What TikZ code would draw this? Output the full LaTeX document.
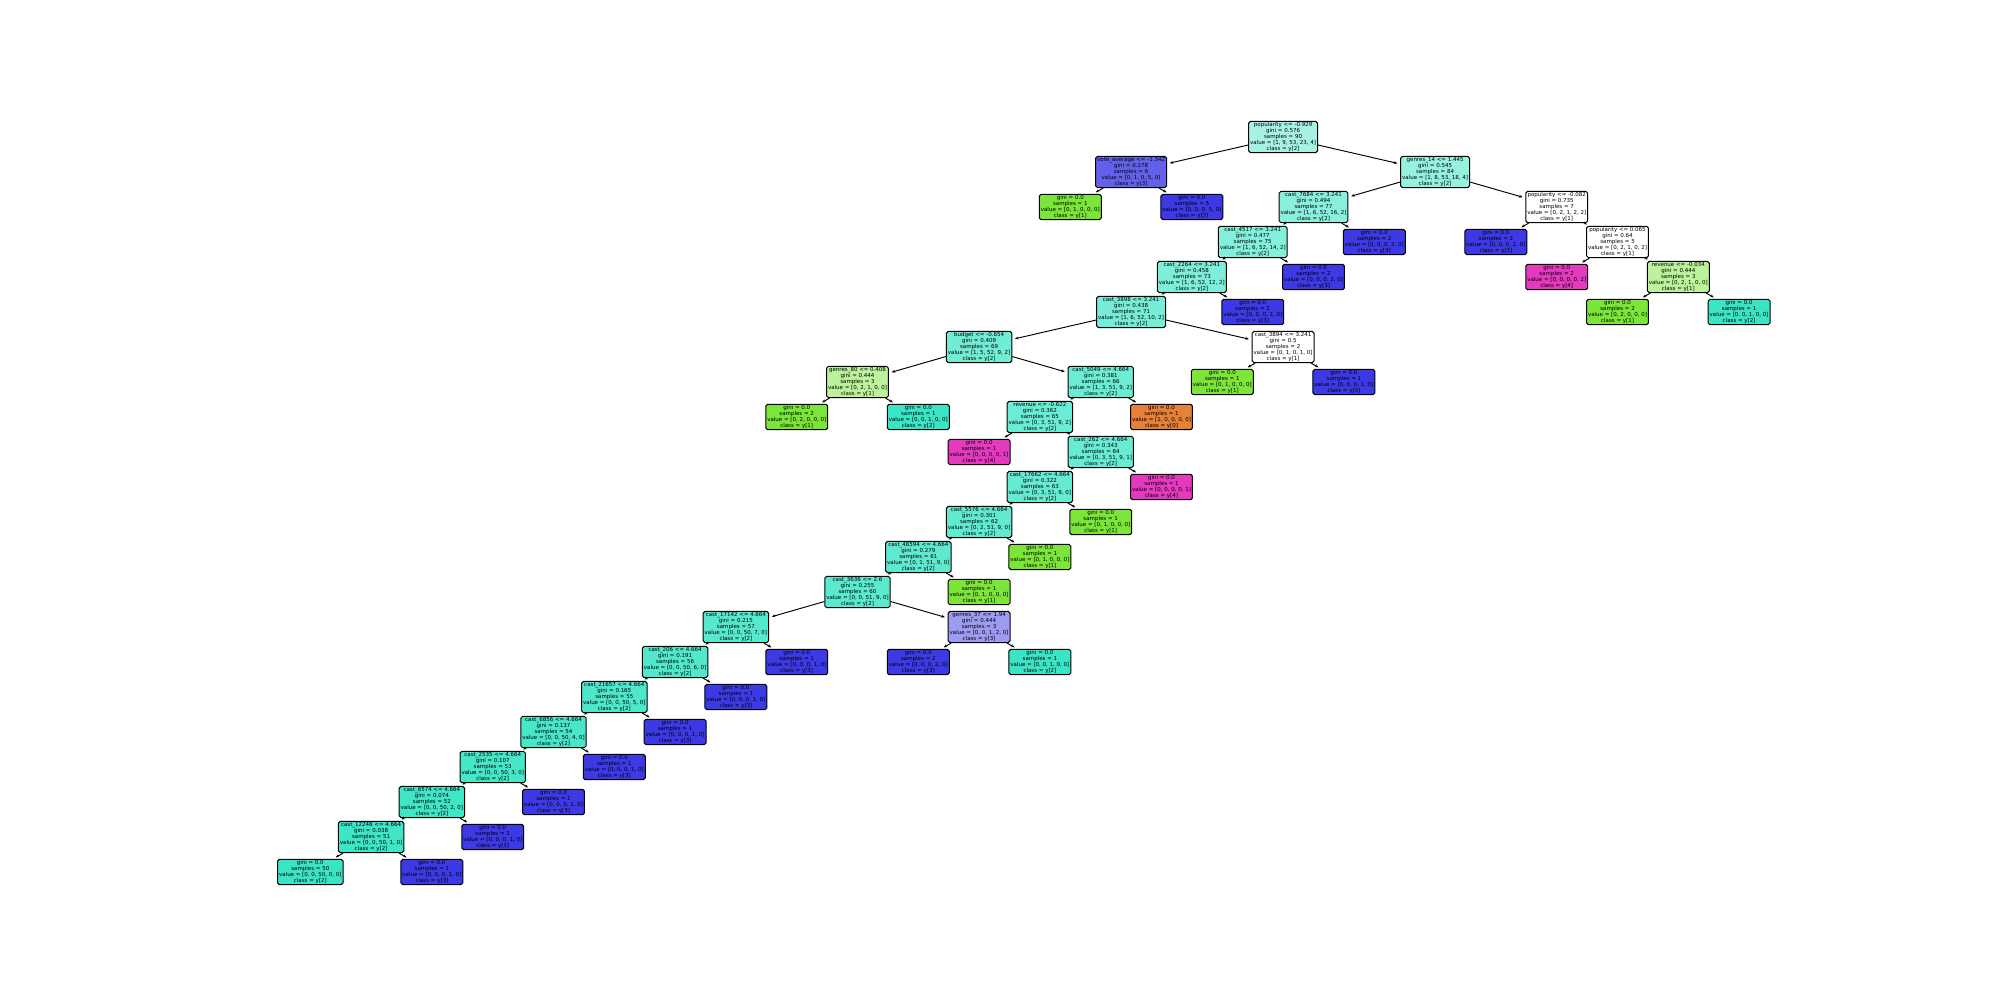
\documentclass[tikz,border=0pt]{standalone}
\usepackage{fontspec}
\setmainfont{DejaVu Sans}
\usetikzlibrary{arrows.meta}
\definecolor{cO}{RGB}{229,129,57}
\definecolor{cG}{RGB}{123,229,57}
\definecolor{cT}{RGB}{57,229,197}
\definecolor{cB}{RGB}{60,57,229}
\definecolor{cP}{RGB}{229,57,192}
\definecolor{iRoot}{RGB}{166,243,229}
\definecolor{iVA}{RGB}{99,97,234}
\definecolor{iGa}{RGB}{150,241,224}
\definecolor{iC7684}{RGB}{138,240,221}
\definecolor{iC4517}{RGB}{132,239,219}
\definecolor{iC2264}{RGB}{125,238,217}
\definecolor{iC3898}{RGB}{119,237,215}
\definecolor{iBud}{RGB}{113,236,213}
\definecolor{iC5049}{RGB}{109,236,212}
\definecolor{iR622}{RGB}{107,236,212}
\definecolor{iC262}{RGB}{104,235,211}
\definecolor{iC17662}{RGB}{101,235,210}
\definecolor{iC5576}{RGB}{98,234,209}
\definecolor{iC46594}{RGB}{95,234,208}
\definecolor{iC3636}{RGB}{92,234,207}
\definecolor{iC17142}{RGB}{85,233,205}
\definecolor{iC206}{RGB}{81,232,204}
\definecolor{iC21657}{RGB}{77,232,203}
\definecolor{iC6856}{RGB}{73,231,202}
\definecolor{iC2535}{RGB}{69,231,200}
\definecolor{iC6574}{RGB}{65,230,199}
\definecolor{iC12248}{RGB}{61,230,198}
\definecolor{iLG}{RGB}{189,242,156}
\definecolor{iLB}{RGB}{158,156,242}
\newcommand\tfs{\fontsize{5.5}{5.9}\selectfont}
\newcommand\lf[3]{gini = 0.0\\samples = #1\\value = [#2]\\class = y[#3]}
\newcommand\N[5]{\node[tn, fill=#4] (#1) at ({310.3+60.8*#2},{137+35*#3}) {#5};}
\tikzset{
  tn/.style={draw=black, line width=1pt, rounded corners=1.8pt, align=center,
    inner xsep=1.5pt, inner ysep=1.2pt, font=\tfs, text=black},
  ar/.style={-{Stealth[length=3.5pt,width=2.8pt]}, line width=0.95pt, shorten >=2.8pt}
}
\begin{document}
\begin{tikzpicture}[x=1pt,y=-1pt]
\useasboundingbox (0,0) rectangle (2000,1000);
% depth 0
\N{n0}{16}{0}{iRoot}{popularity <= -0.929\\gini = 0.576\\samples = 90\\value = [1, 9, 53, 23, 4]\\class = y[2]}
% depth 1
\N{va}{13.5}{1}{iVA}{vote\_average <= -1.342\\gini = 0.278\\samples = 6\\value = [0, 1, 0, 5, 0]\\class = y[3]}
\N{g14}{18.5}{1}{iGa}{genres\_14 <= 1.445\\gini = 0.545\\samples = 84\\value = [1, 8, 53, 18, 4]\\class = y[2]}
% depth 2
\N{l1}{12.5}{2}{cG}{\lf{1}{0, 1, 0, 0, 0}{1}}
\N{l2}{14.5}{2}{cB}{\lf{5}{0, 0, 0, 5, 0}{3}}
\N{c7684}{16.5}{2}{iC7684}{cast\_7684 <= 3.241\\gini = 0.494\\samples = 77\\value = [1, 6, 52, 16, 2]\\class = y[2]}
\N{p082}{20.5}{2}{white}{popularity <= -0.082\\gini = 0.735\\samples = 7\\value = [0, 2, 1, 2, 2]\\class = y[1]}
% depth 3
\N{c4517}{15.5}{3}{iC4517}{cast\_4517 <= 3.241\\gini = 0.477\\samples = 75\\value = [1, 6, 52, 14, 2]\\class = y[2]}
\N{l3}{17.5}{3}{cB}{\lf{2}{0, 0, 0, 2, 0}{3}}
\N{l4}{19.5}{3}{cB}{\lf{2}{0, 0, 0, 2, 0}{3}}
\N{p065}{21.5}{3}{white}{popularity <= 0.065\\gini = 0.64\\samples = 5\\value = [0, 2, 1, 0, 2]\\class = y[1]}
% depth 4
\N{c2264}{14.5}{4}{iC2264}{cast\_2264 <= 3.241\\gini = 0.458\\samples = 73\\value = [1, 6, 52, 12, 2]\\class = y[2]}
\N{l5}{16.5}{4}{cB}{\lf{2}{0, 0, 0, 2, 0}{3}}
\N{l6}{20.5}{4}{cP}{\lf{2}{0, 0, 0, 0, 2}{4}}
\N{r034}{22.5}{4}{iLG}{revenue <= -0.034\\gini = 0.444\\samples = 3\\value = [0, 2, 1, 0, 0]\\class = y[1]}
% depth 5
\N{c3898}{13.5}{5}{iC3898}{cast\_3898 <= 3.241\\gini = 0.438\\samples = 71\\value = [1, 6, 52, 10, 2]\\class = y[2]}
\N{l7}{15.5}{5}{cB}{\lf{2}{0, 0, 0, 2, 0}{3}}
\N{l8}{21.5}{5}{cG}{\lf{2}{0, 2, 0, 0, 0}{1}}
\N{l9}{23.5}{5}{cT}{\lf{1}{0, 0, 1, 0, 0}{2}}
% depth 6
\N{bud}{11}{6}{iBud}{budget <= -0.654\\gini = 0.409\\samples = 69\\value = [1, 5, 52, 9, 2]\\class = y[2]}
\N{c3894}{16}{6}{white}{cast\_3894 <= 3.241\\gini = 0.5\\samples = 2\\value = [0, 1, 0, 1, 0]\\class = y[1]}
% depth 7
\N{g80}{9}{7}{iLG}{genres\_80 <= 0.408\\gini = 0.444\\samples = 3\\value = [0, 2, 1, 0, 0]\\class = y[1]}
\N{c5049}{13}{7}{iC5049}{cast\_5049 <= 4.664\\gini = 0.381\\samples = 66\\value = [1, 3, 51, 9, 2]\\class = y[2]}
\N{l10}{15}{7}{cG}{\lf{1}{0, 1, 0, 0, 0}{1}}
\N{l11}{17}{7}{cB}{\lf{1}{0, 0, 0, 1, 0}{3}}
% depth 8
\N{l12}{8}{8}{cG}{\lf{2}{0, 2, 0, 0, 0}{1}}
\N{l13}{10}{8}{cT}{\lf{1}{0, 0, 1, 0, 0}{2}}
\N{r622}{12}{8}{iR622}{revenue <= -0.622\\gini = 0.362\\samples = 65\\value = [0, 3, 51, 9, 2]\\class = y[2]}
\N{l14}{14}{8}{cO}{\lf{1}{1, 0, 0, 0, 0}{0}}
% depth 9
\N{l15}{11}{9}{cP}{\lf{1}{0, 0, 0, 0, 1}{4}}
\N{c262}{13}{9}{iC262}{cast\_262 <= 4.664\\gini = 0.343\\samples = 64\\value = [0, 3, 51, 9, 1]\\class = y[2]}
% depth 10
\N{c17662}{12}{10}{iC17662}{cast\_17662 <= 4.664\\gini = 0.322\\samples = 63\\value = [0, 3, 51, 9, 0]\\class = y[2]}
\N{l16}{14}{10}{cP}{\lf{1}{0, 0, 0, 0, 1}{4}}
% depth 11
\N{c5576}{11}{11}{iC5576}{cast\_5576 <= 4.664\\gini = 0.301\\samples = 62\\value = [0, 2, 51, 9, 0]\\class = y[2]}
\N{l17}{13}{11}{cG}{\lf{1}{0, 1, 0, 0, 0}{1}}
% depth 12
\N{c46594}{10}{12}{iC46594}{cast\_46594 <= 4.664\\gini = 0.279\\samples = 61\\value = [0, 1, 51, 9, 0]\\class = y[2]}
\N{l18}{12}{12}{cG}{\lf{1}{0, 1, 0, 0, 0}{1}}
% depth 13
\N{c3636}{9}{13}{iC3636}{cast\_3636 <= 2.6\\gini = 0.255\\samples = 60\\value = [0, 0, 51, 9, 0]\\class = y[2]}
\N{l19}{11}{13}{cG}{\lf{1}{0, 1, 0, 0, 0}{1}}
% depth 14
\N{c17142}{7}{14}{iC17142}{cast\_17142 <= 4.664\\gini = 0.215\\samples = 57\\value = [0, 0, 50, 7, 0]\\class = y[2]}
\N{g37}{11}{14}{iLB}{genres\_37 <= 1.94\\gini = 0.444\\samples = 3\\value = [0, 0, 1, 2, 0]\\class = y[3]}
% depth 15
\N{c206}{6}{15}{iC206}{cast\_206 <= 4.664\\gini = 0.191\\samples = 56\\value = [0, 0, 50, 6, 0]\\class = y[2]}
\N{l20}{8}{15}{cB}{\lf{1}{0, 0, 0, 1, 0}{3}}
\N{l21}{10}{15}{cB}{\lf{2}{0, 0, 0, 2, 0}{3}}
\N{l22}{12}{15}{cT}{\lf{1}{0, 0, 1, 0, 0}{2}}
% depth 16
\N{c21657}{5}{16}{iC21657}{cast\_21657 <= 4.664\\gini = 0.165\\samples = 55\\value = [0, 0, 50, 5, 0]\\class = y[2]}
\N{l23}{7}{16}{cB}{\lf{1}{0, 0, 0, 1, 0}{3}}
% depth 17
\N{c6856}{4}{17}{iC6856}{cast\_6856 <= 4.664\\gini = 0.137\\samples = 54\\value = [0, 0, 50, 4, 0]\\class = y[2]}
\N{l24}{6}{17}{cB}{\lf{1}{0, 0, 0, 1, 0}{3}}
% depth 18
\N{c2535}{3}{18}{iC2535}{cast\_2535 <= 4.664\\gini = 0.107\\samples = 53\\value = [0, 0, 50, 3, 0]\\class = y[2]}
\N{l25}{5}{18}{cB}{\lf{1}{0, 0, 0, 1, 0}{3}}
% depth 19
\N{c6574}{2}{19}{iC6574}{cast\_6574 <= 4.664\\gini = 0.074\\samples = 52\\value = [0, 0, 50, 2, 0]\\class = y[2]}
\N{l26}{4}{19}{cB}{\lf{1}{0, 0, 0, 1, 0}{3}}
% depth 20
\N{c12248}{1}{20}{iC12248}{cast\_12248 <= 4.664\\gini = 0.038\\samples = 51\\value = [0, 0, 50, 1, 0]\\class = y[2]}
\N{l27}{3}{20}{cB}{\lf{1}{0, 0, 0, 1, 0}{3}}
% depth 21
\N{l28}{0}{21}{cT}{\lf{50}{0, 0, 50, 0, 0}{2}}
\N{l29}{2}{21}{cB}{\lf{1}{0, 0, 0, 1, 0}{3}}
% edges
\foreach \p/\c in {n0/va, n0/g14, va/l1, va/l2, g14/c7684, g14/p082,
  c7684/c4517, c7684/l3, p082/l4, p082/p065,
  c4517/c2264, c4517/l5, p065/l6, p065/r034,
  c2264/c3898, c2264/l7, r034/l8, r034/l9,
  c3898/bud, c3898/c3894, bud/g80, bud/c5049, c3894/l10, c3894/l11,
  g80/l12, g80/l13, c5049/r622, c5049/l14, r622/l15, r622/c262,
  c262/c17662, c262/l16, c17662/c5576, c17662/l17, c5576/c46594, c5576/l18,
  c46594/c3636, c46594/l19, c3636/c17142, c3636/g37,
  c17142/c206, c17142/l20, g37/l21, g37/l22, c206/c21657, c206/l23,
  c21657/c6856, c21657/l24, c6856/c2535, c6856/l25, c2535/c6574, c2535/l26,
  c6574/c12248, c6574/l27, c12248/l28, c12248/l29}
  \draw[ar] (\p) -- (\c);
\end{tikzpicture}
\end{document}
